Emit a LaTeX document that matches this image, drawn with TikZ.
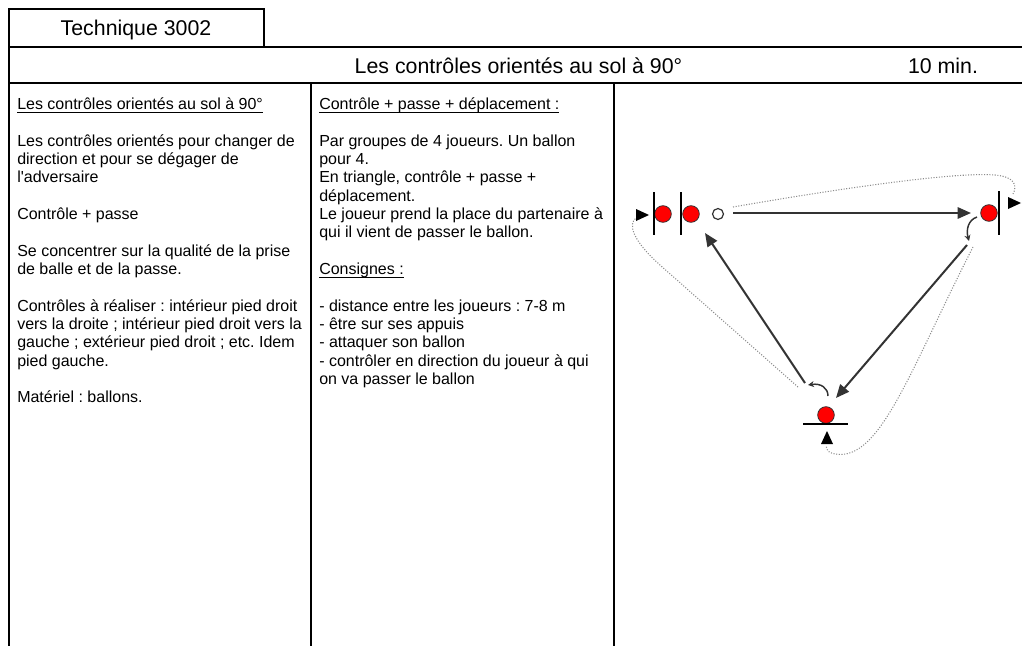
\documentclass[tikz,border=0pt]{standalone}
\usepackage{fontspec}
\newfontfamily\arial{Liberation Sans}
\usetikzlibrary{arrows.meta}
\definecolor{ink}{HTML}{333333}
\definecolor{dotgray}{HTML}{8C8C8C}
\newcommand\myul[1]{\leavevmode\sbox0{#1}\rlap{\rule[-2.4pt]{\wd0}{0.6pt}}\usebox0}
\frenchspacing
\begin{document}
\begin{tikzpicture}[x=0.75pt,y=-0.75pt,
  frame/.style={line width=1.5pt,black},
  txt/.style={font=\arial\fontsize{12}{13.75}\selectfont,anchor=base west,inner sep=0pt},
  big/.style={font=\arial\fontsize{16}{19}\selectfont,anchor=base,inner sep=0pt},
  player/.style={circle,fill=red,draw=ink,line width=0.6pt,minimum size=12.5pt,inner sep=0pt},
  ball/.style={circle,fill=white,draw=ink,line width=0.9pt,minimum size=8.2pt,inner sep=0pt},
  bar/.style={line width=1.1pt,black},
  pass/.style={line width=1.5pt,ink,-{Triangle[length=10pt,width=8.5pt]}},
  run/.style={dotgray,line width=0.8pt,dash pattern=on 0.8pt off 1.2pt},
  turn/.style={ink,line width=1.1pt,-{Stealth[length=4.5pt,width=4.5pt]}},
  head/.style={fill=black}]
\useasboundingbox (0,0) rectangle (1022,646);
% frame
\draw[frame] (9,47) -- (9,9) -- (264,9) -- (264,47);
\draw[frame] (9,47) -- (1023,47);
\draw[frame] (9,83) -- (1023,83);
\draw[frame] (9,47) -- (9,647);
\draw[frame] (311,83) -- (311,647);
\draw[frame] (614,83) -- (614,647);
% headers
\node[big] (tech) at (136,36) {Technique 3002};
\node[big] (title) at (518.5,73.3) {Les contrôles orientés au sol à 90°};
\node[big] (dur) at (943,73.3) {10 min.};
% left column
\node[txt] (leftcol) at (17,109.5) {\parbox[t]{300pt}{\raggedright
\myul{Les contrôles orientés au sol à 90°}\\[13.75pt]
Les contrôles orientés pour changer de\\
direction et pour se dégager de\\
l'adversaire\\[13.75pt]
Contrôle + passe\\[13.75pt]
Se concentrer sur la qualité de la prise\\
de balle et de la passe.\\[13.75pt]
Contrôles à réaliser : intérieur pied droit\\
vers la droite ; intérieur pied droit vers la\\
gauche ; extérieur pied droit ; etc. Idem\\
pied gauche.\\[13.75pt]
Matériel : ballons.}};
% middle column
\node[txt] (midcol) at (319,109.5) {\parbox[t]{300pt}{\raggedright
\myul{Contrôle + passe + déplacement :}\\[13.75pt]
Par groupes de 4 joueurs. Un ballon\\
pour 4.\\
En triangle, contrôle + passe +\\
déplacement.\\
Le joueur prend la place du partenaire à\\
qui il vient de passer le ballon.\\[13.75pt]
\myul{Consignes :}\\[13.75pt]
- distance entre les joueurs : 7-8 m\\
- être sur ses appuis\\
- attaquer son ballon\\
- contrôler en direction du joueur à qui\\
on va passer le ballon}};
% players
\node[player] (p1) at (663,214) {};
\node[player] (p2) at (691,214) {};
\node[ball] (ball) at (718,214) {};
\node[player] (p3) at (989,213) {};
\node[player] (p4) at (826,415) {};
% bars
\draw[bar] (654,192) -- (654,235);
\draw[bar] (681,192) -- (681,235);
\draw[bar] (999,191) -- (999,235);
\draw[bar] (803,424) -- (848,424);
% run arrowheads
\coordinate (hL) at (642,215);
\coordinate (hR) at (1014,203);
\coordinate (hB) at (827,438);
\fill[head] (636,209) -- (649,215) -- (636,221) -- cycle;
\fill[head] (1008,197) -- (1021,203) -- (1008,209) -- cycle;
\fill[head] (821,444) -- (827,431) -- (833,444) -- cycle;
% pass arrows
\coordinate (s1) at (733,213);
\coordinate (e1) at (971,213);
\coordinate (s2) at (967,245);
\coordinate (e2) at (836,398);
\coordinate (s3) at (805,383);
\coordinate (e3) at (705,233);
\draw[pass] (s1) -- (e1);
\draw[pass] (s2) -- (e2);
\draw[pass] (s3) -- (e3);
% turns
\coordinate (t1s) at (977,217);
\coordinate (t1e) at (969,241);
\coordinate (t2s) at (828,396);
\coordinate (t2e) at (808,385);
\draw[turn] (t1s) .. controls (968,220) and (966,230) .. (t1e);
\draw[turn] (t2s) .. controls (828,388) and (821,383) .. (t2e);
% runs
\coordinate (r1s) at (733,207);
\coordinate (r1e) at (1013,194);
\draw[run] (r1s) .. controls (860,185) and (960,172) .. (995,175)
  .. controls (1016,177) and (1017,186) .. (r1e);
\coordinate (r2s) at (973,247);
\coordinate (r2e) at (826,446);
\draw[run] (r2s) .. controls (910,370) and (880,462) .. (835,454)
  .. controls (828,452) .. (r2e);
\coordinate (r3s) at (798,387);
\coordinate (r3e) at (636,218);
\draw[run] (r3s) -- (660,265) .. controls (632,240) and (628,224) .. (r3e);
\end{tikzpicture}
\end{document}
